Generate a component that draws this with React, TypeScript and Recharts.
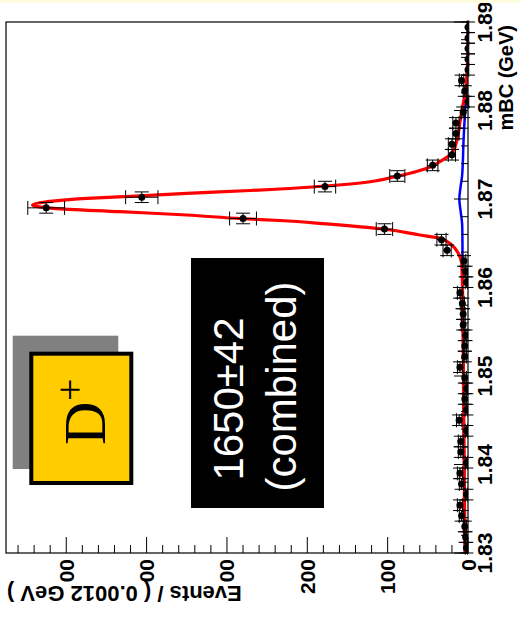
import React from 'react';
import { ComposedChart, Line, Scatter, ErrorBar, XAxis, YAxis } from 'recharts';

// bin centres (GeV), bin width 0.0012
const binMass = [
  1.8306, 1.8318, 1.833, 1.8342, 1.8354, 1.8366, 1.8378, 1.839, 1.8402, 1.8414,
  1.8426, 1.8438, 1.845, 1.8462, 1.8474, 1.8486, 1.8498, 1.851, 1.8522, 1.8534,
  1.8546, 1.8558, 1.857, 1.8582, 1.8594, 1.8606, 1.8618, 1.863, 1.8642, 1.8654,
  1.8666, 1.8678, 1.869, 1.8702, 1.8714, 1.8726, 1.8738, 1.875, 1.8762, 1.8774,
  1.8786, 1.8798, 1.881, 1.8822, 1.8834, 1.8846, 1.8858, 1.887, 1.8882, 1.8894,
];
const binEvents = [
  2, 3, 4, 8, 10, 2, 8, 10, 2, 9,
  9, 2, 11, 2, 4, 2, 4, 10, 4, 4,
  3, 6, 6, 7, 10, 2, 3, 5, 26, 33,
  104, 280, 525, 406, 178, 88, 44, 20, 20, 15,
  15, 6, 0, 4, 8, 0, 0, 0, 0, 0,
];
const binErrors = [
  1.4, 1.7, 2, 2.8, 3.2, 1.4, 2.8, 3.2, 1.4, 3,
  3, 1.4, 3.3, 1.4, 2, 1.4, 2, 3.2, 2, 2,
  1.7, 2.4, 2.4, 2.6, 3.2, 1.4, 1.7, 2.2, 5.1, 5.7,
  10.2, 16.7, 22.9, 20.1, 13.3, 9.4, 6.6, 4.5, 4.5, 3.9,
  3.9, 2.4, 1, 2, 2.8, 1, 1, 1, 1, 1,
];
const halfBin = 0.0006;

// total fit (red)
const fitMass = [
  1.83, 1.836, 1.8473, 1.8586, 1.862, 1.86273, 1.86386, 1.8648, 1.86556, 1.86593,
  1.86658, 1.86718, 1.86757, 1.86777, 1.86819, 1.86857, 1.86895, 1.86932, 1.86977, 1.87008,
  1.87037, 1.87064, 1.87096, 1.87113, 1.87147, 1.87181, 1.8726, 1.87347, 1.87422, 1.8752,
  1.87667, 1.8787, 1.88062, 1.88254, 1.88435, 1.88706, 1.89,
];
const fitEvents = [
  3.7, 4.4, 5.5, 6.5, 7.5, 7.8, 12.1, 20.3, 34.9, 59.8,
  104, 176, 234, 280, 350, 433, 516, 542, 517, 474,
  406, 350, 271, 234, 178, 134, 87, 51, 35, 20,
  13.7, 10, 6.2, 2.5, 1.2, 0, 0,
];

// background component (blue)
const bkgMass = [
  1.83, 1.836, 1.8473, 1.8586, 1.862, 1.865, 1.867, 1.8685, 1.87, 1.8712,
  1.8725, 1.8745, 1.876, 1.879, 1.8815, 1.884, 1.8865, 1.89,
];
const bkgEvents = [
  3.7, 4.4, 5.5, 6.5, 6.8, 6.9, 7.2, 9, 10.8, 9.5,
  7.5, 6.3, 5.8, 4.2, 2.5, 1.2, 0, 0,
];

const massMajor = [1.83, 1.84, 1.85, 1.86, 1.87, 1.88, 1.89];
const eventMajor = [0, 100, 200, 300, 400, 500];

const massTicks: number[] = [];
for (let i = 0; i <= 30; i++) massTicks.push(+(1.83 + i * 0.002).toFixed(3));
const eventTicks: number[] = [];
for (let i = 0; i <= 28; i++) eventTicks.push(i * 20);

const points = binMass.map((m, i) => ({ m, v: binEvents[i], ey: binErrors[i], ex: halfBin }));
const fitData = fitMass.map((m, i) => ({ m, v: fitEvents[i] }));
const bkgData = bkgMass.map((m, i) => ({ m, v: bkgEvents[i] }));

const FONT = '"Liberation Sans", Arial, Helvetica, sans-serif';

const MassTick = (props: any) => {
  const { x, y, payload } = props;
  const major = massMajor.some((t) => Math.abs(t - payload.value) < 1e-6);
  return (
    <g>
      <line x1={x} x2={x} y1={y} y2={y - (major ? 14 : 7)} stroke="#000" strokeWidth={1} />
      {major && (
        <text x={x} y={y + 24} textAnchor="middle" fontFamily={FONT} fontWeight="bold" fontSize={21} fill="#000">
          {payload.value.toFixed(2)}
        </text>
      )}
    </g>
  );
};

const EventTick = (props: any) => {
  const { x, y, payload } = props;
  const major = eventMajor.includes(payload.value);
  return (
    <g>
      <line x1={x} x2={x + (major ? 16 : 8)} y1={y} y2={y} stroke="#000" strokeWidth={1} />
      {major && (
        <text x={x - 6} y={y} textAnchor="end" dominantBaseline="central" fontFamily={FONT} fontWeight="bold" fontSize={21} fill="#000">
          {payload.value}
        </text>
      )}
    </g>
  );
};

const Dot = (props: any) => <circle cx={props.cx} cy={props.cy} r={3.5} fill="#000" />;

const App: React.FC = () => {
  return (
    <div style={{ position: 'absolute', left: 0, top: 0, width: 520, height: 625, background: '#fff', overflow: 'hidden' }}>
      <div
        style={{
          position: 'absolute',
          left: 0,
          top: 0,
          width: 625,
          height: 520,
          transformOrigin: '0 0',
          transform: 'translate(0px, 625px) rotate(-90deg)',
        }}
      >
        <ComposedChart width={625} height={520} margin={{ top: 6, right: 22, bottom: 0, left: 0 }}>
          <XAxis
            dataKey="m"
            type="number"
            domain={[1.83, 1.89]}
            allowDataOverflow
            ticks={massTicks}
            interval={0}
            tick={<MassTick />}
            tickLine={false}
            axisLine={false}
            tickSize={0}
            tickMargin={0}
            height={52}
          />
          <YAxis
            dataKey="v"
            type="number"
            domain={[0, 575]}
            allowDataOverflow
            ticks={eventTicks}
            interval={0}
            tick={<EventTick />}
            tickLine={false}
            axisLine={false}
            tickSize={0}
            tickMargin={0}
            width={72}
          />
          <Line data={bkgData} dataKey="v" type="monotone" stroke="#0000ff" strokeWidth={2.5} dot={false} isAnimationActive={false} />
          <Line data={fitData} dataKey="v" type="monotone" stroke="#ff0000" strokeWidth={3.2} dot={false} isAnimationActive={false} />
          <Scatter data={points} dataKey="v" shape={<Dot />} isAnimationActive={false}>
            <ErrorBar dataKey="ey" direction="y" width={7} stroke="#000" strokeWidth={1} />
            <ErrorBar dataKey="ex" direction="x" width={7} stroke="#000" strokeWidth={1} />
          </Scatter>
        </ComposedChart>
        <svg width={625} height={520} style={{ position: 'absolute', left: 0, top: 0, pointerEvents: 'none' }}>
          <rect x={72} y={6} width={531} height={462} fill="none" stroke="#000" strokeWidth={1.2} />
          {/* D+ label */}
          <rect x={156} y={12.7} width={133.3} height={105.6} fill="#808080" />
          <rect x={142} y={31.3} width={129.3} height={100} fill="#ffcc00" stroke="#000" strokeWidth={4} />
          <text x={180} y={105} fontFamily='"Liberation Serif", "Times New Roman", serif' fontSize={60} fill="#000">D</text>
          <text x={224} y={83} fontFamily='"Liberation Serif", "Times New Roman", serif' fontSize={40} fill="#000">+</text>
          {/* yield box */}
          <rect x={117} y={191} width={250} height={133} fill="#000" />
          <text x={226} y={243} textAnchor="middle" fontFamily={FONT} fontSize={42} fill="#fff">1650±42</text>
          <text x={238.5} y={296} textAnchor="middle" fontFamily={FONT} fontSize={42} fill="#fff">(combined)</text>
          {/* axis titles */}
          <text x={600} y={513} textAnchor="end" fontFamily={FONT} fontWeight="bold" fontSize={20} fill="#000">mBC (GeV)</text>
          <rect x={14} y={2} width={29} height={240} fill="#fff" />
          <text x={39} y={7} transform="rotate(-90, 39, 7)" textAnchor="end" fontFamily={FONT} fontWeight="bold" fontSize={22} fill="#000">
            Events / ( 0.0012 GeV )
          </text>
        </svg>
      </div>
      <div style={{ position: 'absolute', left: 0, top: 0, width: 520, height: 3, background: '#fffde0' }} />
    </div>
  );
};

export default App;
